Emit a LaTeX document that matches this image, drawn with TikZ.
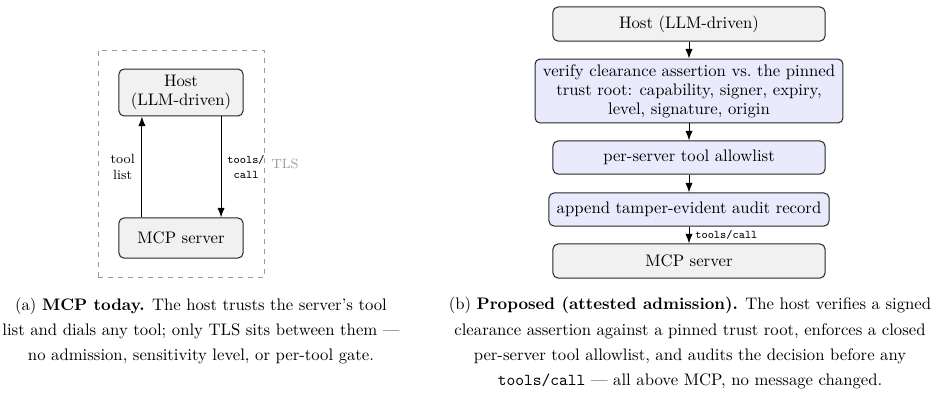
\documentclass[tikz,border=0pt]{standalone}
\usetikzlibrary{arrows.meta}
\definecolor{boxgray}{HTML}{F1F1F1}
\definecolor{boxblue}{HTML}{EAEAFD}
\definecolor{tlsgray}{HTML}{9A9A9A}
\tikzset{
  base/.style={draw=black!85, line width=0.6pt, rounded corners=3pt, align=center, inner sep=0pt, font=\fontsize{10}{11.4}\selectfont},
  graybox/.style={base, fill=boxgray},
  bluebox/.style={base, fill=boxblue},
  arr/.style={-{Latex[length=5.8pt,width=4.4pt]}, line width=0.6pt},
  ttlbl/.style={font=\fontsize{7}{8.5}\selectfont\ttfamily, inner sep=3.5pt, align=center},
  rmlbl/.style={font=\fontsize{8}{9.5}\selectfont, inner sep=4pt, align=center},
  captext/.style={font=\fontsize{10}{15}\selectfont, align=center, inner sep=0pt},
}
\begin{document}
\begin{tikzpicture}[x=0.5988pt,y=-0.5988pt]
\useasboundingbox (0,0) rectangle (939,403);
% ---------- panel (a)
\node[draw=tlsgray, dashed, line width=0.6pt, minimum width=99.4pt, minimum height=136.5pt, inner sep=0pt] (tls) at (181,164) {};
\node[rmlbl, text=tlsgray, anchor=west] (tlslbl) at (tls.east) {TLS};
\node[graybox, minimum width=74.3pt, minimum height=28.1pt] (hostA) at (181,92.5) {Host\\(LLM-driven)};
\node[graybox, minimum width=74.3pt, minimum height=24pt] (mcpA) at (181,238) {MCP server};
\draw[arr] ([xshift=-23.4pt]mcpA.north) -- node[rmlbl, left] (toollist) {tool\\list} ([xshift=-23.4pt]hostA.south);
\draw[arr] ([xshift=24pt]hostA.south) -- node[ttlbl, right] (callA) {tools/\\call} ([xshift=24pt]mcpA.north);
% ---------- panel (b)
\node[graybox, minimum width=162.9pt, minimum height=20.4pt] (hostB) at (689,24) {Host (LLM-driven)};
\node[bluebox, minimum width=184.4pt, minimum height=38.3pt] (verify) at (689,91) {verify clearance assertion vs.\ the pinned\\trust root: capability, signer, expiry,\\level, signature, origin};
\node[bluebox, minimum width=162.9pt, minimum height=19.8pt] (allow) at (689,157.5) {per-server tool allowlist};
\node[bluebox, minimum width=167.7pt, minimum height=19.8pt] (audit) at (689,209.5) {append tamper-evident audit record};
\node[graybox, minimum width=162.9pt, minimum height=20.4pt] (mcpB) at (689,261) {MCP server};
\draw[arr] (hostB) -- (verify);
\draw[arr] (verify) -- (allow);
\draw[arr] (allow) -- (audit);
\draw[arr] (audit) -- node[ttlbl, right] (callB) {tools/call} (mcpB);
% ---------- captions
\node[captext] (capA) at (201,331) {(a) \textbf{MCP today.} The host trusts the server's tool\\list and dials any tool; only TLS sits between them ---\\no admission, sensitivity level, or per-tool gate.};
\node[captext] (capB) at (690,343) {(b) \textbf{Proposed (attested admission).} The host verifies a signed\\clearance assertion against a pinned trust root, enforces a closed\\per-server tool allowlist, and audits the decision before any\\\texttt{tools/call} --- all above MCP, no message changed.};
\end{tikzpicture}
\end{document}
